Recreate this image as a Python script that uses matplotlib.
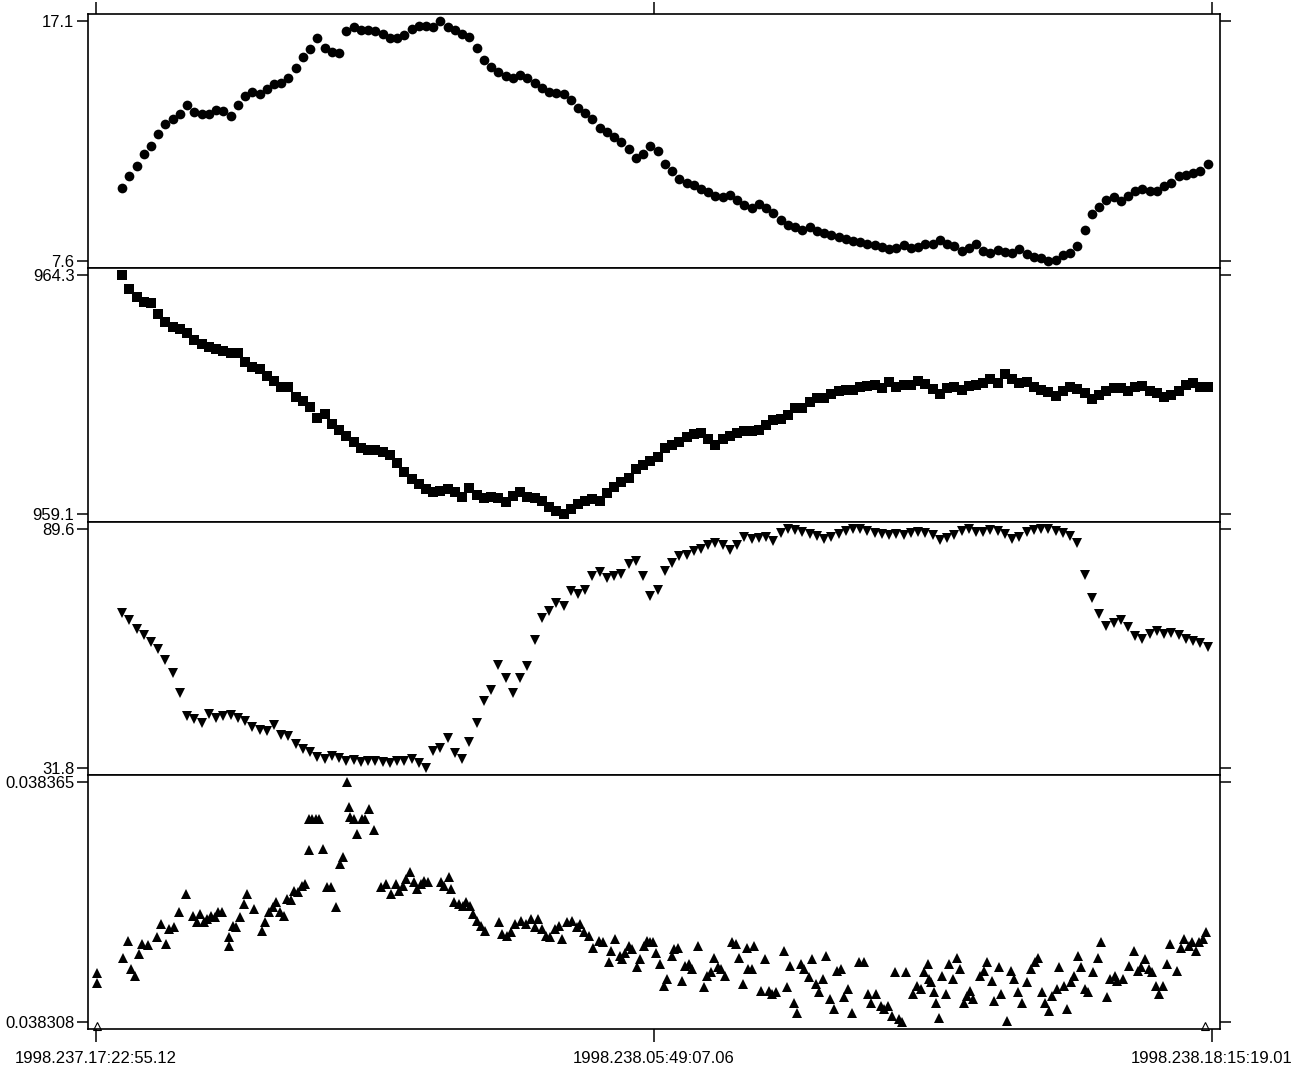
import matplotlib.pyplot as plt
import numpy as np

plt.rcParams['font.family'] = ['Liberation Sans', 'DejaVu Sans']

# time axis in hours since 1998.237.17:22:55.12
t_end = 24.8733
tick_labels = ['1998.237.17:22:55.12', '1998.238.05:49:07.06', '1998.238.18:15:19.01']

# regular sampling of the first three channels
t = 0.58 + 0.1613 * np.arange(151)

temp = [10.49, 10.95, 11.35, 11.81, 12.14, 12.61, 13.01, 13.20, 13.43, 13.77,
        13.51, 13.40, 13.43, 13.56, 13.54, 13.34, 13.77, 14.13, 14.30, 14.20,
        14.40, 14.60, 14.66, 14.86, 15.26, 15.66, 15.99, 16.42, 16.05, 15.89,
        15.82, 16.72, 16.87, 16.74, 16.74, 16.72, 16.61, 16.42, 16.42, 16.56,
        16.78, 16.91, 16.90, 16.87, 17.10, 16.87, 16.74, 16.58, 16.48, 16.05,
        15.55, 15.28, 15.10, 14.93, 14.86, 14.97, 14.86, 14.66, 14.46, 14.30,
        14.26, 14.20, 13.96, 13.64, 13.47, 13.20, 12.87, 12.71, 12.50, 12.32,
        12.01, 11.68, 11.81, 12.14, 11.95, 11.42, 11.15, 10.82, 10.69, 10.59,
        10.46, 10.33, 10.16, 10.12, 10.20, 9.99, 9.80, 9.69, 9.83, 9.69,
        9.50, 9.23, 9.01, 8.95, 8.83, 8.95, 8.79, 8.70, 8.61, 8.53,
        8.44, 8.37, 8.32, 8.26, 8.21, 8.13, 8.06, 8.10, 8.21, 8.10,
        8.13, 8.24, 8.24, 8.42, 8.24, 8.17, 7.97, 8.10, 8.24, 7.97,
        7.91, 8.00, 7.95, 7.91, 8.04, 7.87, 7.73, 7.71, 7.60, 7.64,
        7.81, 7.91, 8.17, 8.83, 9.43, 9.72, 9.99, 10.12, 9.96, 10.16,
        10.36, 10.46, 10.36, 10.38, 10.56, 10.69, 10.95, 10.99, 11.09, 11.15,
        11.44]

press = [964.30, 964.00, 963.82, 963.72, 963.68, 963.46, 963.27, 963.17, 963.12, 963.03,
         962.88, 962.81, 962.73, 962.70, 962.65, 962.60, 962.60, 962.40, 962.30, 962.26,
         962.11, 962.00, 961.87, 961.87, 961.64, 961.56, 961.44, 961.19, 961.27, 961.06,
         960.94, 960.80, 960.67, 960.54, 960.50, 960.49, 960.45, 960.38, 960.21, 960.02,
         959.87, 959.76, 959.66, 959.58, 959.61, 959.66, 959.58, 959.48, 959.67, 959.51,
         959.45, 959.47, 959.45, 959.37, 959.50, 959.58, 959.48, 959.45, 959.40, 959.27,
         959.18, 959.10, 959.22, 959.32, 959.38, 959.43, 959.40, 959.56, 959.69, 959.80,
         959.90, 960.08, 960.18, 960.26, 960.35, 960.55, 960.61, 960.67, 960.77, 960.84,
         960.86, 960.74, 960.60, 960.74, 960.80, 960.87, 960.90, 960.90, 960.94, 961.03,
         961.15, 961.16, 961.25, 961.40, 961.42, 961.53, 961.62, 961.63, 961.71, 961.77,
         961.81, 961.81, 961.87, 961.88, 961.91, 961.84, 961.98, 961.87, 961.91, 961.90,
         962.00, 961.94, 961.82, 961.71, 961.84, 961.87, 961.79, 961.88, 961.91, 961.95,
         962.05, 961.95, 962.14, 962.05, 961.95, 961.97, 961.87, 961.79, 961.75, 961.68,
         961.77, 961.87, 961.82, 961.73, 961.61, 961.69, 961.77, 961.84, 961.85, 961.77,
         961.87, 961.88, 961.78, 961.74, 961.65, 961.69, 961.77, 961.92, 961.95, 961.87,
         961.87]

humid = [69.23, 67.62, 65.45, 63.84, 62.23, 60.54, 57.96, 54.74, 49.91, 44.28,
         43.71, 42.67, 44.84, 43.88, 44.28, 44.52, 43.88, 43.07, 41.62, 40.98,
         40.66, 42.10, 39.85, 39.45, 37.60, 36.47, 35.66, 34.54, 33.89, 34.62,
         34.22, 33.57, 33.73, 33.25, 33.41, 33.57, 33.25, 33.01, 33.41, 33.57,
         34.05, 33.01, 31.80, 35.83, 36.63, 39.05, 35.42, 34.05, 38.08, 42.67,
         47.90, 50.72, 56.76, 53.54, 49.91, 53.54, 56.35, 62.79, 68.03, 69.80,
         71.65, 70.84, 74.47, 73.82, 74.87, 78.09, 79.13, 77.69, 78.09, 78.65,
         81.07, 81.87, 78.09, 73.26, 74.87, 79.30, 81.31, 82.92, 83.32, 84.29,
         84.77, 85.57, 86.06, 85.57, 84.53, 85.57, 87.51, 87.18, 87.35, 87.67,
         86.70, 88.55, 89.60, 89.36, 88.79, 88.31, 87.83, 87.18, 87.51, 88.31,
         89.12, 89.52, 89.44, 89.12, 88.63, 88.31, 87.99, 88.31, 88.15, 88.47,
         88.79, 88.63, 87.99, 86.86, 87.35, 87.99, 89.12, 89.52, 88.79, 88.79,
         89.28, 89.12, 88.31, 87.18, 87.51, 88.79, 89.28, 89.55, 89.44, 89.12,
         88.63, 87.75, 86.14, 78.49, 72.86, 68.99, 66.01, 66.82, 67.62, 65.77,
         63.60, 63.03, 64.16, 64.81, 64.16, 64.32, 64.00, 63.03, 62.55, 62.07,
         60.94]

# fourth channel, its own sample times (hours)
t4 = [0.02, 0.02, 0.60, 0.71, 0.79, 0.87, 0.95, 1.03, 1.15, 1.35,
      1.44, 1.55, 1.63, 1.73, 1.84, 2.00, 2.16, 2.24, 2.32, 2.40,
      2.48, 2.56, 2.65, 2.73, 2.81, 2.97, 2.97, 3.05, 3.13, 3.21,
      3.29, 3.37, 3.53, 3.69, 3.77, 3.86, 3.94, 4.02, 4.10, 4.18,
      4.26, 4.34, 4.42, 4.50, 4.58, 4.66, 4.74, 4.74, 4.82, 4.90,
      4.98, 5.07, 5.15, 5.23, 5.34, 5.44, 5.50, 5.60, 5.63, 5.66,
      5.76, 5.82, 5.92, 5.99, 6.08, 6.19, 6.36, 6.47, 6.57, 6.68,
      6.76, 6.84, 6.92, 7.00, 7.08, 7.16, 7.24, 7.32, 7.40, 7.70,
      7.76, 7.86, 7.92, 7.97, 8.08, 8.18, 8.24, 8.34, 8.41, 8.50,
      8.57, 8.66, 8.99, 9.05, 9.15, 9.26, 9.34, 9.47, 9.58, 9.70,
      9.79, 9.86, 9.95, 10.02, 10.12, 10.23, 10.31, 10.39, 10.50, 10.60,
      10.71, 10.79, 10.87, 10.99, 11.08, 11.20, 11.31, 11.44, 11.47, 11.57,
      11.68, 11.73, 11.79, 11.89, 11.95, 12.05, 12.12, 12.21, 12.28, 12.34,
      12.41, 12.49, 12.57, 12.65, 12.73, 12.83, 12.89, 12.97, 13.05, 13.13,
      13.21, 13.29, 13.41, 13.54, 13.62, 13.70, 13.78, 13.86, 13.94, 14.02,
      14.18, 14.26, 14.34, 14.42, 14.50, 14.54, 14.63, 14.67, 14.83, 14.91,
      14.99, 15.07, 15.15, 15.34, 15.39, 15.47, 15.55, 15.63, 15.71, 15.79,
      15.88, 15.96, 16.04, 16.12, 16.20, 16.28, 16.36, 16.44, 16.52, 16.60,
      16.68, 16.76, 16.84, 17.00, 17.12, 17.21, 17.28, 17.38, 17.49, 17.57,
      17.65, 17.73, 17.81, 17.89, 17.97, 18.05, 18.21, 18.30, 18.38, 18.46,
      18.54, 18.57, 18.62, 18.67, 18.73, 18.78, 18.86, 18.94, 19.02, 19.10,
      19.18, 19.26, 19.34, 19.42, 19.47, 19.54, 19.70, 19.80, 19.86, 19.96,
      20.02, 20.12, 20.18, 20.31, 20.39, 20.47, 20.55, 20.63, 20.76, 20.83,
      20.93, 20.99, 21.09, 21.15, 21.25, 21.31, 21.41, 21.47, 21.57, 21.64,
      21.73, 21.80, 21.89, 21.96, 22.05, 22.12, 22.22, 22.33, 22.41, 22.54,
      22.60, 22.70, 22.76, 22.89, 23.02, 23.14, 23.22, 23.30, 23.38, 23.46,
      23.54, 23.62, 23.70, 23.78, 23.86, 23.94, 24.10, 24.18, 24.26, 24.35,
      24.43, 24.51, 24.59, 24.67, 24.75]

flux = [0.0383196, 0.0383172, 0.0383233, 0.0383273, 0.0383206, 0.0383190, 0.0383241, 0.0383265, 0.0383263, 0.0383281,
        0.0383313, 0.0383265, 0.0383301, 0.0383305, 0.0383341, 0.0383384, 0.0383333, 0.0383317, 0.0383337, 0.0383317,
        0.0383325, 0.0383333, 0.0383329, 0.0383341, 0.0383341, 0.0383281, 0.0383261, 0.0383309, 0.0383305, 0.0383329,
        0.0383361, 0.0383384, 0.0383349, 0.0383297, 0.0383317, 0.0383341, 0.0383353, 0.0383365, 0.0383341, 0.0383333,
        0.0383373, 0.0383369, 0.0383392, 0.0383388, 0.0383404, 0.0383408, 0.0383488, 0.0383563, 0.0383563, 0.0383563,
        0.0383563, 0.0383492, 0.0383400, 0.0383400, 0.0383353, 0.0383456, 0.0383472, 0.0383650, 0.0383591, 0.0383567,
        0.0383563, 0.0383528, 0.0383563, 0.0383563, 0.0383587, 0.0383536, 0.0383400, 0.0383408, 0.0383384, 0.0383408,
        0.0383392, 0.0383404, 0.0383420, 0.0383436, 0.0383412, 0.0383396, 0.0383408, 0.0383416, 0.0383412, 0.0383412,
        0.0383404, 0.0383424, 0.0383396, 0.0383365, 0.0383361, 0.0383357, 0.0383365, 0.0383357, 0.0383337, 0.0383321,
        0.0383309, 0.0383297, 0.0383317, 0.0383289, 0.0383285, 0.0383293, 0.0383313, 0.0383321, 0.0383313, 0.0383325,
        0.0383305, 0.0383325, 0.0383301, 0.0383285, 0.0383281, 0.0383301, 0.0383309, 0.0383277, 0.0383317, 0.0383321,
        0.0383305, 0.0383313, 0.0383293, 0.0383285, 0.0383257, 0.0383273, 0.0383269, 0.0383222, 0.0383249, 0.0383277,
        0.0383237, 0.0383229, 0.0383245, 0.0383261, 0.0383253, 0.0383210, 0.0383229, 0.0383261, 0.0383273, 0.0383269,
        0.0383269, 0.0383245, 0.0383218, 0.0383166, 0.0383182, 0.0383237, 0.0383253, 0.0383257, 0.0383178, 0.0383214,
        0.0383218, 0.0383206, 0.0383261, 0.0383162, 0.0383190, 0.0383198, 0.0383233, 0.0383210, 0.0383206, 0.0383190,
        0.0383269, 0.0383265, 0.0383233, 0.0383170, 0.0383257, 0.0383206, 0.0383206, 0.0383261, 0.0383154, 0.0383229,
        0.0383154, 0.0383146, 0.0383150, 0.0383249, 0.0383162, 0.0383214, 0.0383126, 0.0383102, 0.0383218, 0.0383206,
        0.0383186, 0.0383229, 0.0383170, 0.0383150, 0.0383182, 0.0383237, 0.0383134, 0.0383110, 0.0383202, 0.0383206,
        0.0383138, 0.0383158, 0.0383102, 0.0383222, 0.0383222, 0.0383146, 0.0383126, 0.0383146, 0.0383118, 0.0383110,
        0.0383118, 0.0383094, 0.0383198, 0.0383086, 0.0383080, 0.0383198, 0.0383146, 0.0383166, 0.0383158, 0.0383198,
        0.0383218, 0.0383182, 0.0383174, 0.0383150, 0.0383126, 0.0383090, 0.0383190, 0.0383146, 0.0383218, 0.0383182,
        0.0383233, 0.0383206, 0.0383126, 0.0383142, 0.0383154, 0.0383134, 0.0383190, 0.0383202, 0.0383222, 0.0383178,
        0.0383130, 0.0383210, 0.0383146, 0.0383082, 0.0383202, 0.0383182, 0.0383150, 0.0383126, 0.0383174, 0.0383206,
        0.0383222, 0.0383233, 0.0383150, 0.0383126, 0.0383106, 0.0383142, 0.0383158, 0.0383210, 0.0383166, 0.0383110,
        0.0383174, 0.0383190, 0.0383237, 0.0383210, 0.0383158, 0.0383150, 0.0383198, 0.0383233, 0.0383269, 0.0383138,
        0.0383182, 0.0383190, 0.0383178, 0.0383182, 0.0383214, 0.0383249, 0.0383202, 0.0383210, 0.0383229, 0.0383206,
        0.0383198, 0.0383166, 0.0383146, 0.0383166, 0.0383218, 0.0383265, 0.0383202, 0.0383257, 0.0383277, 0.0383261,
        0.0383269, 0.0383249, 0.0383269, 0.0383277, 0.0383293]

# flagged samples, drawn as open triangles on the bottom axis
t_flag = [0.02, 24.72]

fig, axes = plt.subplots(4, 1, figsize=(13.1, 10.69), sharex=True,
                         gridspec_kw={'hspace': 0})
fig.subplots_adjust(left=0.0674, right=0.9313, top=0.9869, bottom=0.0374)

panels = [(t, temp, 'o', 7, 1),
          (t, press, 's', 7.5, 1),
          (t, humid, 'v', 7.5, 1),
          (t4, flux, '^', 7.5, 6)]

for ax, (x, y, mk, ms, dec) in zip(axes, panels):
    ax.plot(x, y, linestyle='none', marker=mk, markersize=ms,
            color='black', markeredgewidth=0)
    lo, hi = min(y), max(y)
    pad = 0.03 * (hi - lo)
    ax.set_ylim(lo - pad, hi + pad)
    ax.set_yticks([lo, hi])
    ax.set_yticklabels([f'{lo:.{dec}f}', f'{hi:.{dec}f}'])
    ax.tick_params(axis='y', direction='out', left=True, right=True,
                   length=8, width=1.1, labelsize=12, pad=2)
    ax.tick_params(axis='x', direction='out', bottom=False, top=False,
                   length=9, width=1.1)
    for s in ax.spines.values():
        s.set_linewidth(1.2)

axes[0].set_xlim(-0.172, t_end + 0.178)
axes[0].set_xticks([0, t_end / 2, t_end])
axes[0].tick_params(axis='x', top=True, labeltop=False)
axes[3].set_xticklabels(tick_labels)
axes[3].tick_params(axis='x', bottom=True, labelbottom=True, labelsize=12, pad=7)

axes[3].plot(t_flag, [0.013, 0.013], transform=axes[3].get_xaxis_transform(),
             linestyle='none', marker='^', markersize=6, markerfacecolor='none',
             markeredgecolor='black', markeredgewidth=0.8, clip_on=False, zorder=5)

plt.savefig('out.png', dpi=100)
